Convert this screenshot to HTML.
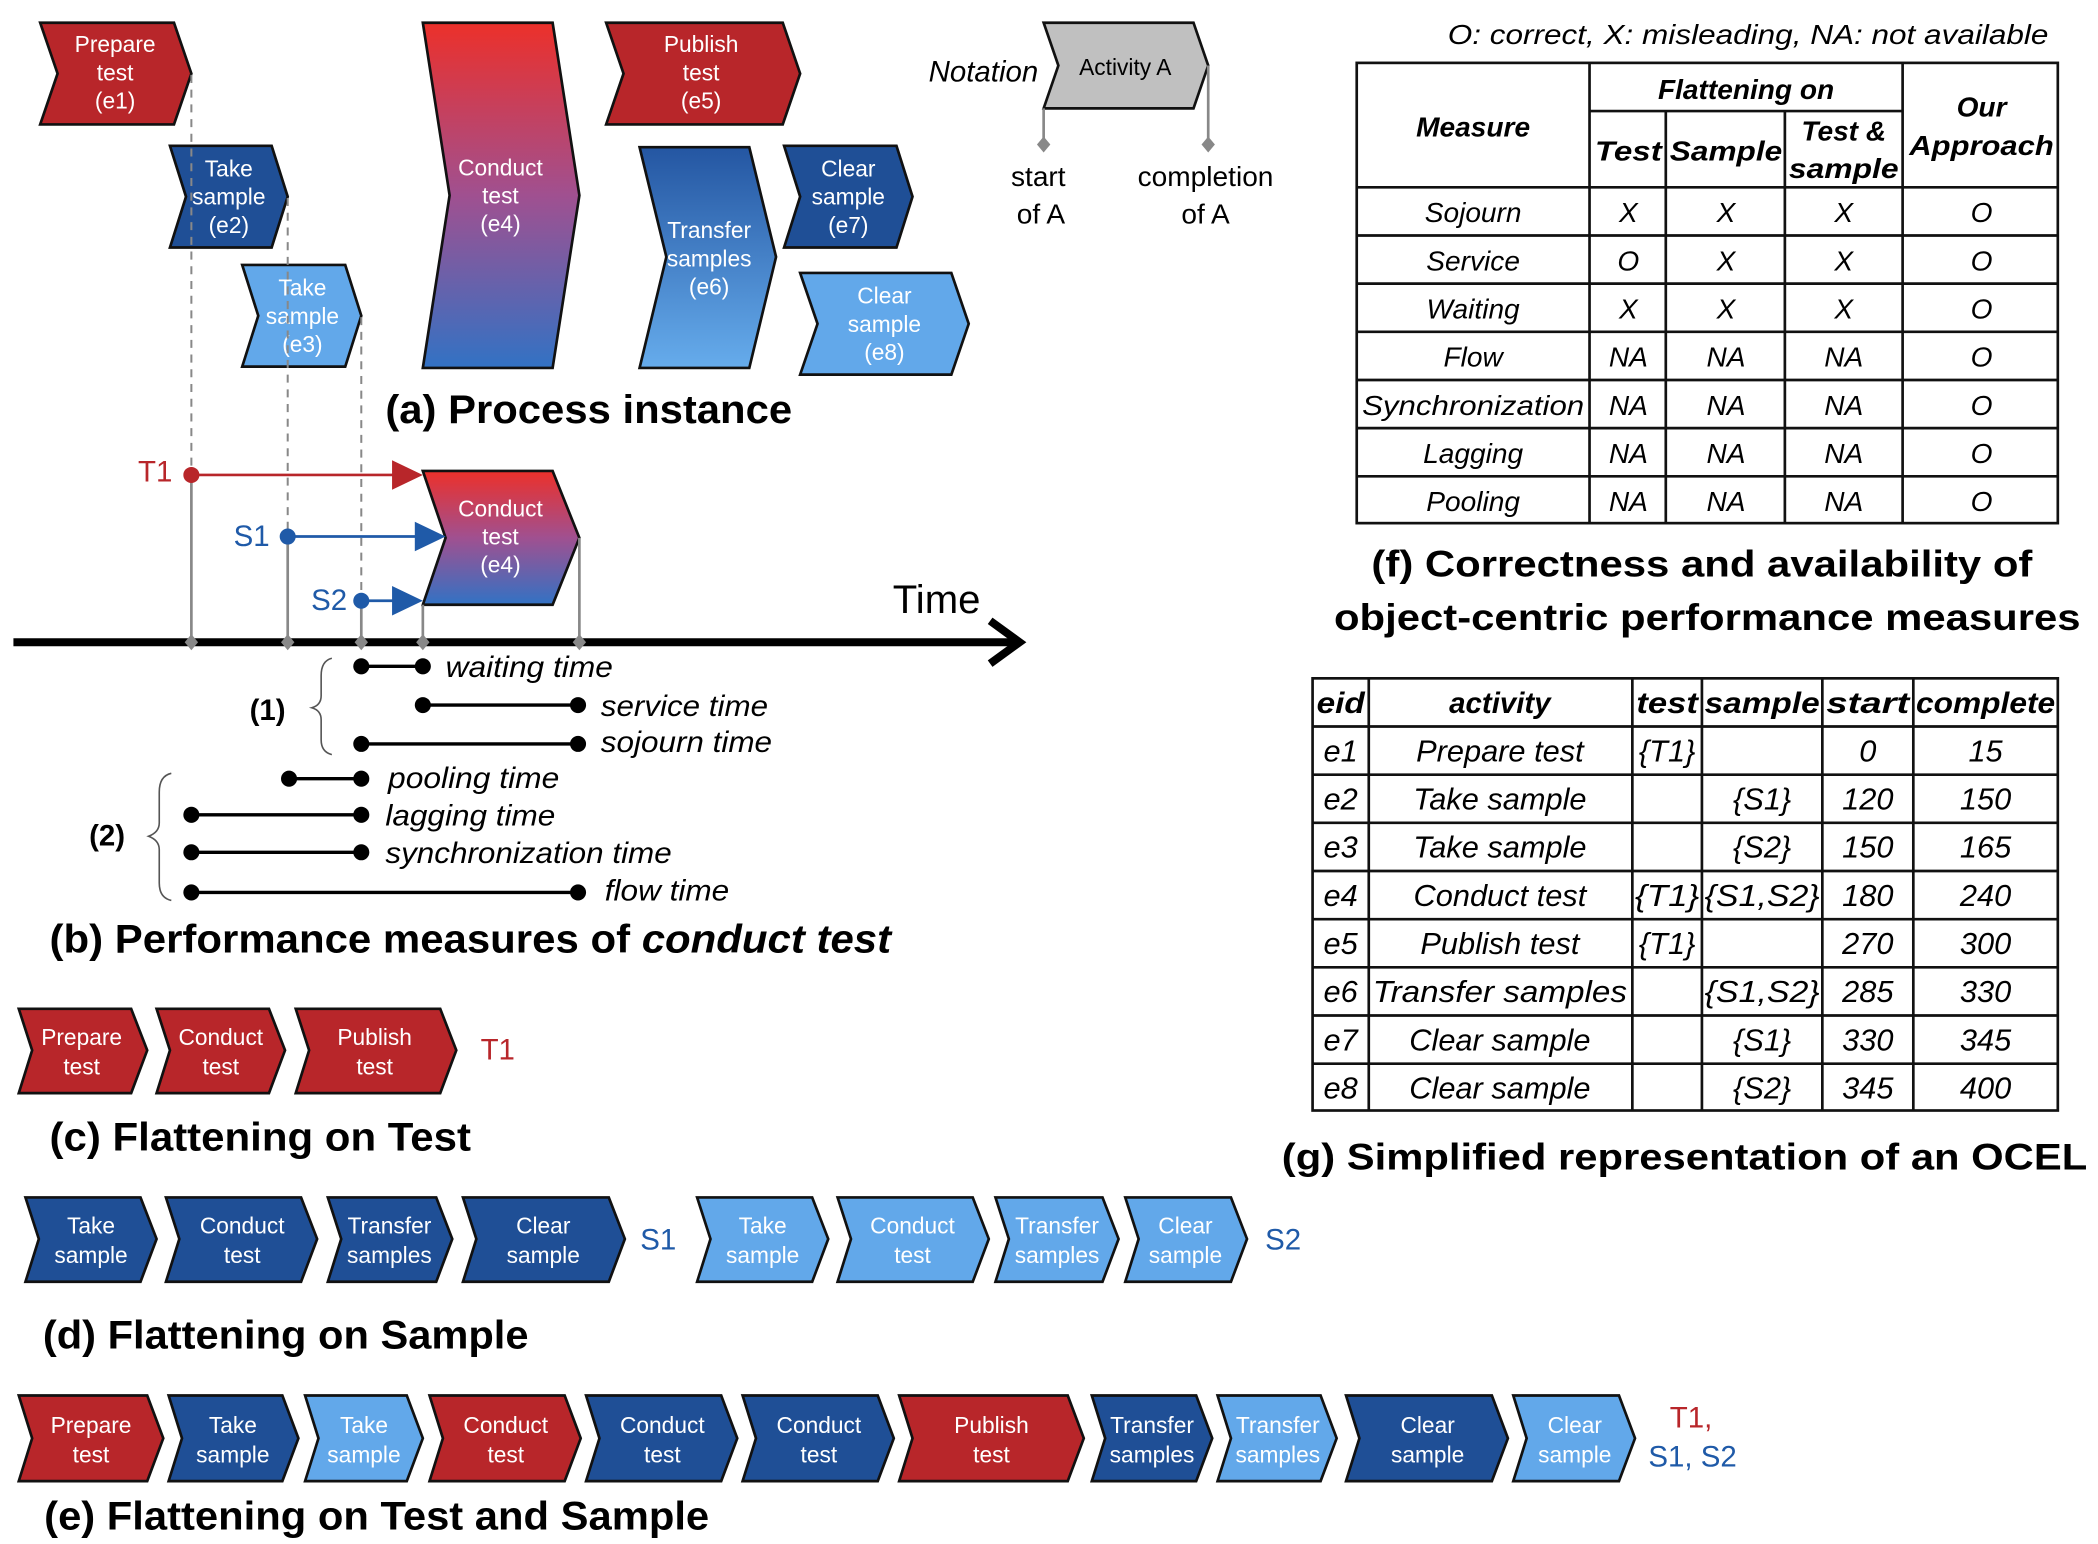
<!DOCTYPE html>
<html><head><meta charset="utf-8"><style>
html,body{margin:0;padding:0;background:#fff}
svg{display:block}
text{font-family:"Liberation Sans",Arial,sans-serif}
.w{fill:#fff;font-size:17px;text-anchor:middle}
.it{font-style:italic}
.b{font-weight:bold}
.t{font-size:21px;font-style:italic;text-anchor:middle}
.th{font-size:21px;font-style:italic;font-weight:bold;text-anchor:middle}
.cap{font-weight:bold;font-size:30px}
.m{font-size:22px;font-style:italic}
</style></head><body>
<svg width="2098" height="1544" viewBox="0 0 1568 1154" xmlns="http://www.w3.org/2000/svg">
<defs>
<linearGradient id="g4" x1="0" y1="0" x2="0" y2="1"><stop offset="0" stop-color="#ec302a"/><stop offset="0.5" stop-color="#a05090"/><stop offset="1" stop-color="#3272c4"/></linearGradient>
<linearGradient id="g6" x1="0" y1="0" x2="0" y2="1"><stop offset="0" stop-color="#2456a2"/><stop offset="1" stop-color="#66acec"/></linearGradient>
</defs>
<g stroke="#111" stroke-width="2">
<polygon fill="#b8262a" points="30,17 130,17 143,55 130,93 30,93 43,55"/>
<polygon fill="#1f4f96" points="127,109 203,109 215,147 203,185 127,185 139,147"/>
<polygon fill="#62a8ea" points="181,198 258,198 270,236 258,274 181,274 193,236"/>
<polygon fill="url(#g4)" points="316,17 413,17 433,146 413,275 316,275 336,146"/>
<polygon fill="#b8262a" points="453,17 585,17 598,55 585,93 453,93 466,55"/>
<polygon fill="url(#g6)" points="478,110 560,110 580,192 560,275 478,275 498,192"/>
<polygon fill="#1f4f96" points="586,109 670,109 682,147 670,185 586,185 598,147"/>
<polygon fill="#62a8ea" points="598,204 711,204 724,242 711,280 598,280 611,242"/>
<polygon fill="#c0c0c0" points="780,17 892,17 903,49 892,81 780,81 791,49"/>
<polygon fill="url(#g4)" points="316,352 413,352 433,402 413,452 316,452 333,402"/>
</g>
<g class="w">
<text x="86" y="39">Prepare</text><text x="86" y="60">test</text><text x="86" y="81">(e1)</text>
<text x="171" y="132">Take</text><text x="171" y="153">sample</text><text x="171" y="174">(e2)</text>
<text x="226" y="221">Take</text><text x="226" y="242">sample</text><text x="226" y="263">(e3)</text>
<text x="374" y="131">Conduct</text><text x="374" y="152">test</text><text x="374" y="173">(e4)</text>
<text x="524" y="39">Publish</text><text x="524" y="60">test</text><text x="524" y="81">(e5)</text>
<text x="530" y="178">Transfer</text><text x="530" y="199">samples</text><text x="530" y="220">(e6)</text>
<text x="634" y="132">Clear</text><text x="634" y="153">sample</text><text x="634" y="174">(e7)</text>
<text x="661" y="227">Clear</text><text x="661" y="248">sample</text><text x="661" y="269">(e8)</text>
<text x="374" y="386">Conduct</text><text x="374" y="407">test</text><text x="374" y="428">(e4)</text>
</g>
<text x="841" y="56" style="font-size:17px;text-anchor:middle">Activity A</text>
<text x="735" y="61" class="it" style="font-size:22px;text-anchor:middle">Notation</text>
<g stroke="#888" stroke-width="2"><line x1="780" y1="81" x2="780" y2="108"/><line x1="903" y1="49" x2="903" y2="108"/></g>
<g fill="#888"><polygon points="780,102 785,108 780,114 775,108"/><polygon points="903,102 908,108 903,114 898,108"/></g>
<g style="font-size:21px;text-anchor:middle"><text x="776" y="139">start</text><text x="778" y="167">of A</text><text x="901" y="139">completion</text><text x="901" y="167">of A</text></g>
<g stroke="#888" stroke-width="1.5" stroke-dasharray="6,5"><line x1="143" y1="56" x2="143" y2="352"/><line x1="215" y1="148" x2="215" y2="398"/><line x1="270" y1="237" x2="270" y2="446"/></g>
<text x="288" y="316" class="cap" textLength="304" lengthAdjust="spacingAndGlyphs">(a) Process instance</text>
<g stroke="#888" stroke-width="2"><line x1="143" y1="355" x2="143" y2="480"/><line x1="215" y1="400" x2="215" y2="480"/><line x1="270" y1="448" x2="270" y2="480"/><line x1="316" y1="452" x2="316" y2="480"/><line x1="433" y1="402" x2="433" y2="480"/></g>
<line x1="143" y1="355" x2="298" y2="355" stroke="#b8262a" stroke-width="2"/>
<polygon points="293,344 316,355 293,366" fill="#b8262a"/>
<circle cx="143" cy="355" r="6" fill="#b8262a"/>
<text x="116" y="360" style="font-size:22px;fill:#b8262a;text-anchor:middle">T1</text>
<line x1="215" y1="401" x2="315" y2="401" stroke="#1f5aa8" stroke-width="2"/>
<polygon points="310,390 333,401 310,412" fill="#1f5aa8"/>
<circle cx="215" cy="401" r="6" fill="#1f5aa8"/>
<text x="188" y="408" style="font-size:22px;fill:#1f5aa8;text-anchor:middle">S1</text>
<line x1="270" y1="449" x2="298" y2="449" stroke="#1f5aa8" stroke-width="2"/>
<polygon points="293,438 316,449 293,460" fill="#1f5aa8"/>
<circle cx="270" cy="449" r="6" fill="#1f5aa8"/>
<text x="246" y="456" style="font-size:22px;fill:#1f5aa8;text-anchor:middle">S2</text>
<line x1="10" y1="480" x2="762" y2="480" stroke="#000" stroke-width="6"/>
<polyline points="740,464 762,480 740,496" fill="none" stroke="#000" stroke-width="6"/>
<g fill="#888"><polygon points="143,474 148,480 143,486 138,480"/><polygon points="215,474 220,480 215,486 210,480"/><polygon points="270,474 275,480 270,486 265,480"/><polygon points="316,474 321,480 316,486 311,480"/><polygon points="433,474 438,480 433,486 428,480"/></g>
<text x="700" y="458" style="font-size:30px;text-anchor:middle">Time</text>
<g stroke="#000" stroke-width="2.5">
<line x1="270" y1="498" x2="316" y2="498"/><line x1="316" y1="527" x2="432" y2="527"/><line x1="270" y1="556" x2="432" y2="556"/>
<line x1="216" y1="582" x2="270" y2="582"/><line x1="143" y1="609" x2="270" y2="609"/><line x1="143" y1="637" x2="270" y2="637"/><line x1="143" y1="667" x2="432" y2="667"/>
</g>
<g fill="#000">
<circle cx="270" cy="498" r="6"/><circle cx="316" cy="498" r="6"/><circle cx="316" cy="527" r="6"/><circle cx="432" cy="527" r="6"/><circle cx="270" cy="556" r="6"/><circle cx="432" cy="556" r="6"/>
<circle cx="216" cy="582" r="6"/><circle cx="270" cy="582" r="6"/><circle cx="143" cy="609" r="6"/><circle cx="270" cy="609" r="6"/><circle cx="143" cy="637" r="6"/><circle cx="270" cy="637" r="6"/><circle cx="143" cy="667" r="6"/><circle cx="432" cy="667" r="6"/>
</g>
<g class="m">
<text x="333" y="506" textLength="125" lengthAdjust="spacingAndGlyphs">waiting time</text>
<text x="449" y="535" textLength="125" lengthAdjust="spacingAndGlyphs">service time</text>
<text x="449" y="562" textLength="128" lengthAdjust="spacingAndGlyphs">sojourn time</text>
<text x="290" y="589" textLength="128" lengthAdjust="spacingAndGlyphs">pooling time</text>
<text x="288" y="617" textLength="127" lengthAdjust="spacingAndGlyphs">lagging time</text>
<text x="288" y="645" textLength="214" lengthAdjust="spacingAndGlyphs">synchronization time</text>
<text x="452" y="673" textLength="93" lengthAdjust="spacingAndGlyphs">flow time</text>
</g>
<path d="M248,492 Q240,494 240,505 L240,520 Q240,527 233,529 Q240,531 240,538 L240,553 Q240,562 248,564" fill="none" stroke="#555" stroke-width="1.2"/>
<path d="M128,578 Q119,580 119,592 L119,615 Q119,622 111,625 Q119,628 119,635 L119,660 Q119,671 128,673" fill="none" stroke="#555" stroke-width="1.2"/>
<text x="200" y="538" class="b" style="font-size:22px;text-anchor:middle">(1)</text>
<text x="80" y="632" class="b" style="font-size:22px;text-anchor:middle">(2)</text>
<text x="37" y="712" class="cap" textLength="629" lengthAdjust="spacingAndGlyphs">(b) Performance measures of <tspan font-style="italic">conduct test</tspan></text>
<!-- (c) -->
<g stroke="#111" stroke-width="2" fill="#b8262a">
<polygon points="14,754 98,754 110,785 98,817 14,817 24,785"/>
<polygon points="117,754 201,754 213,785 201,817 117,817 127,785"/>
<polygon points="221,754 329,754 341,785 329,817 221,817 231,785"/>
</g>
<g class="w"><text x="61" y="781">Prepare</text><text x="61" y="803">test</text><text x="165" y="781">Conduct</text><text x="165" y="803">test</text><text x="280" y="781">Publish</text><text x="280" y="803">test</text></g>
<text x="372" y="792" style="font-size:22px;fill:#b8262a;text-anchor:middle">T1</text>
<text x="37" y="860" class="cap" textLength="315" lengthAdjust="spacingAndGlyphs">(c) Flattening on Test</text>
<!-- (d) -->
<g stroke="#111" stroke-width="2">
<polygon fill="#1f4f96" points="19,895 105,895 117,926 105,958 19,958 29,926"/>
<polygon fill="#1f4f96" points="124,895 225,895 237,926 225,958 124,958 134,926"/>
<polygon fill="#1f4f96" points="245,895 326,895 338,926 326,958 245,958 255,926"/>
<polygon fill="#1f4f96" points="346,895 455,895 467,926 455,958 346,958 356,926"/>
<polygon fill="#62a8ea" points="521,895 607,895 619,926 607,958 521,958 531,926"/>
<polygon fill="#62a8ea" points="626,895 727,895 739,926 727,958 626,958 636,926"/>
<polygon fill="#62a8ea" points="744,895 824,895 836,926 824,958 744,958 754,926"/>
<polygon fill="#62a8ea" points="841,895 920,895 932,926 920,958 841,958 851,926"/>
</g>
<g class="w">
<text x="68" y="922">Take</text><text x="68" y="944">sample</text>
<text x="181" y="922">Conduct</text><text x="181" y="944">test</text>
<text x="291" y="922">Transfer</text><text x="291" y="944">samples</text>
<text x="406" y="922">Clear</text><text x="406" y="944">sample</text>
<text x="570" y="922">Take</text><text x="570" y="944">sample</text>
<text x="682" y="922">Conduct</text><text x="682" y="944">test</text>
<text x="790" y="922">Transfer</text><text x="790" y="944">samples</text>
<text x="886" y="922">Clear</text><text x="886" y="944">sample</text>
</g>
<text x="492" y="934" style="font-size:22px;fill:#1f5aa8;text-anchor:middle">S1</text>
<text x="959" y="934" style="font-size:22px;fill:#1f5aa8;text-anchor:middle">S2</text>
<text x="32" y="1008" class="cap" textLength="363" lengthAdjust="spacingAndGlyphs">(d) Flattening on Sample</text>
<!-- (e) -->
<g stroke="#111" stroke-width="2">
<polygon fill="#b8262a" points="14,1043 110,1043 122,1075 110,1107 14,1107 24,1075"/>
<polygon fill="#1f4f96" points="126,1043 211,1043 223,1075 211,1107 126,1107 136,1075"/>
<polygon fill="#62a8ea" points="228,1043 304,1043 316,1075 304,1107 228,1107 238,1075"/>
<polygon fill="#b8262a" points="321,1043 422,1043 434,1075 422,1107 321,1107 331,1075"/>
<polygon fill="#1f4f96" points="438,1043 539,1043 551,1075 539,1107 438,1107 448,1075"/>
<polygon fill="#1f4f96" points="555,1043 656,1043 668,1075 656,1107 555,1107 565,1075"/>
<polygon fill="#b8262a" points="672,1043 798,1043 810,1075 798,1107 672,1107 682,1075"/>
<polygon fill="#1f4f96" points="816,1043 894,1043 906,1075 894,1107 816,1107 826,1075"/>
<polygon fill="#62a8ea" points="910,1043 987,1043 999,1075 987,1107 910,1107 920,1075"/>
<polygon fill="#1f4f96" points="1006,1043 1115,1043 1127,1075 1115,1107 1006,1107 1016,1075"/>
<polygon fill="#62a8ea" points="1131,1043 1210,1043 1222,1075 1210,1107 1131,1107 1141,1075"/>
</g>
<g class="w">
<text x="68" y="1071">Prepare</text><text x="68" y="1093">test</text>
<text x="174" y="1071">Take</text><text x="174" y="1093">sample</text>
<text x="272" y="1071">Take</text><text x="272" y="1093">sample</text>
<text x="378" y="1071">Conduct</text><text x="378" y="1093">test</text>
<text x="495" y="1071">Conduct</text><text x="495" y="1093">test</text>
<text x="612" y="1071">Conduct</text><text x="612" y="1093">test</text>
<text x="741" y="1071">Publish</text><text x="741" y="1093">test</text>
<text x="861" y="1071">Transfer</text><text x="861" y="1093">samples</text>
<text x="955" y="1071">Transfer</text><text x="955" y="1093">samples</text>
<text x="1067" y="1071">Clear</text><text x="1067" y="1093">sample</text>
<text x="1177" y="1071">Clear</text><text x="1177" y="1093">sample</text>
</g>
<text x="1248" y="1067" style="font-size:22px;fill:#b8262a">T1,</text>
<text x="1232" y="1096" style="font-size:22px;fill:#1f5aa8">S1, S2</text>
<text x="33" y="1143" class="cap" textLength="497" lengthAdjust="spacingAndGlyphs">(e) Flattening on Test and Sample</text>
<!-- (f) table -->
<text x="1082" y="33" class="it" style="font-size:21px" textLength="449" lengthAdjust="spacingAndGlyphs">O: correct, X: misleading, NA: not available</text>
<g stroke="#111" stroke-width="2" fill="none">
<rect x="1014" y="47" width="524" height="344"/>
<line x1="1188" y1="47" x2="1188" y2="391"/><line x1="1422" y1="47" x2="1422" y2="391"/>
<line x1="1245" y1="83" x2="1245" y2="391"/><line x1="1334" y1="83" x2="1334" y2="391"/>
<line x1="1188" y1="83" x2="1422" y2="83"/>
<line x1="1014" y1="140" x2="1538" y2="140"/><line x1="1014" y1="176" x2="1538" y2="176"/><line x1="1014" y1="212" x2="1538" y2="212"/><line x1="1014" y1="248" x2="1538" y2="248"/><line x1="1014" y1="284" x2="1538" y2="284"/><line x1="1014" y1="320" x2="1538" y2="320"/><line x1="1014" y1="356" x2="1538" y2="356"/>
</g>
<g class="th">
<text x="1101" y="102">Measure</text><text x="1305" y="74">Flattening on</text>
<text x="1217" y="120" textLength="50" lengthAdjust="spacingAndGlyphs">Test</text><text x="1290" y="120" textLength="84" lengthAdjust="spacingAndGlyphs">Sample</text>
<text x="1378" y="105">Test &amp;</text><text x="1378" y="133" textLength="82" lengthAdjust="spacingAndGlyphs">sample</text>
<text x="1481" y="87">Our</text><text x="1481" y="116" textLength="108" lengthAdjust="spacingAndGlyphs">Approach</text>
</g>
<g class="t">
<text x="1101" y="166">Sojourn</text><text x="1217" y="166">X</text><text x="1290" y="166">X</text><text x="1378" y="166">X</text><text x="1481" y="166">O</text>
<text x="1101" y="202">Service</text><text x="1217" y="202">O</text><text x="1290" y="202">X</text><text x="1378" y="202">X</text><text x="1481" y="202">O</text>
<text x="1101" y="238">Waiting</text><text x="1217" y="238">X</text><text x="1290" y="238">X</text><text x="1378" y="238">X</text><text x="1481" y="238">O</text>
<text x="1101" y="274">Flow</text><text x="1217" y="274">NA</text><text x="1290" y="274">NA</text><text x="1378" y="274">NA</text><text x="1481" y="274">O</text>
<text x="1101" y="310" textLength="166" lengthAdjust="spacingAndGlyphs">Synchronization</text><text x="1217" y="310">NA</text><text x="1290" y="310">NA</text><text x="1378" y="310">NA</text><text x="1481" y="310">O</text>
<text x="1101" y="346">Lagging</text><text x="1217" y="346">NA</text><text x="1290" y="346">NA</text><text x="1378" y="346">NA</text><text x="1481" y="346">O</text>
<text x="1101" y="382">Pooling</text><text x="1217" y="382">NA</text><text x="1290" y="382">NA</text><text x="1378" y="382">NA</text><text x="1481" y="382">O</text>
</g>
<text x="1272" y="431" class="b" style="font-size:28px;text-anchor:middle" textLength="494" lengthAdjust="spacingAndGlyphs">(f) Correctness and availability of</text>
<text x="1276" y="471" class="b" style="font-size:28px;text-anchor:middle" textLength="558" lengthAdjust="spacingAndGlyphs">object-centric performance measures</text>
<!-- (g) table -->
<g stroke="#111" stroke-width="2" fill="none">
<rect x="981" y="507" width="557" height="323"/>
<line x1="1023" y1="507" x2="1023" y2="830"/><line x1="1220" y1="507" x2="1220" y2="830"/><line x1="1272" y1="507" x2="1272" y2="830"/><line x1="1362" y1="507" x2="1362" y2="830"/><line x1="1430" y1="507" x2="1430" y2="830"/>
<line x1="981" y1="543" x2="1538" y2="543"/><line x1="981" y1="579" x2="1538" y2="579"/><line x1="981" y1="615" x2="1538" y2="615"/><line x1="981" y1="651" x2="1538" y2="651"/><line x1="981" y1="687" x2="1538" y2="687"/><line x1="981" y1="723" x2="1538" y2="723"/><line x1="981" y1="759" x2="1538" y2="759"/><line x1="981" y1="795" x2="1538" y2="795"/>
</g>
<g class="th" style="font-size:22px">
<text x="1002" y="533" textLength="36" lengthAdjust="spacingAndGlyphs">eid</text><text x="1121" y="533">activity</text><text x="1246" y="533" textLength="46" lengthAdjust="spacingAndGlyphs">test</text><text x="1317" y="533" textLength="86" lengthAdjust="spacingAndGlyphs">sample</text><text x="1396" y="533" textLength="62" lengthAdjust="spacingAndGlyphs">start</text><text x="1484" y="533" textLength="104" lengthAdjust="spacingAndGlyphs">complete</text>
</g>
<g class="t" style="font-size:23px">
<text x="1002" y="569">e1</text><text x="1121" y="569">Prepare test</text><text x="1246" y="569">{T1}</text><text x="1396" y="569">0</text><text x="1484" y="569">15</text>
<text x="1002" y="605">e2</text><text x="1121" y="605">Take sample</text><text x="1317" y="605">{S1}</text><text x="1396" y="605">120</text><text x="1484" y="605">150</text>
<text x="1002" y="641">e3</text><text x="1121" y="641">Take sample</text><text x="1317" y="641">{S2}</text><text x="1396" y="641">150</text><text x="1484" y="641">165</text>
<text x="1002" y="677">e4</text><text x="1121" y="677">Conduct test</text><text x="1246" y="677" textLength="48" lengthAdjust="spacingAndGlyphs">{T1}</text><text x="1317" y="677" textLength="86" lengthAdjust="spacingAndGlyphs">{S1,S2}</text><text x="1396" y="677">180</text><text x="1484" y="677">240</text>
<text x="1002" y="713">e5</text><text x="1121" y="713">Publish test</text><text x="1246" y="713">{T1}</text><text x="1396" y="713">270</text><text x="1484" y="713">300</text>
<text x="1002" y="749">e6</text><text x="1121" y="749" textLength="190" lengthAdjust="spacingAndGlyphs">Transfer samples</text><text x="1317" y="749" textLength="86" lengthAdjust="spacingAndGlyphs">{S1,S2}</text><text x="1396" y="749">285</text><text x="1484" y="749">330</text>
<text x="1002" y="785">e7</text><text x="1121" y="785">Clear sample</text><text x="1317" y="785">{S1}</text><text x="1396" y="785">330</text><text x="1484" y="785">345</text>
<text x="1002" y="821">e8</text><text x="1121" y="821">Clear sample</text><text x="1317" y="821">{S2}</text><text x="1396" y="821">345</text><text x="1484" y="821">400</text>
</g>
<text x="1259" y="874" class="b" style="font-size:28px;text-anchor:middle" textLength="602" lengthAdjust="spacingAndGlyphs">(g) Simplified representation of an OCEL</text>
</svg>
</body></html>
